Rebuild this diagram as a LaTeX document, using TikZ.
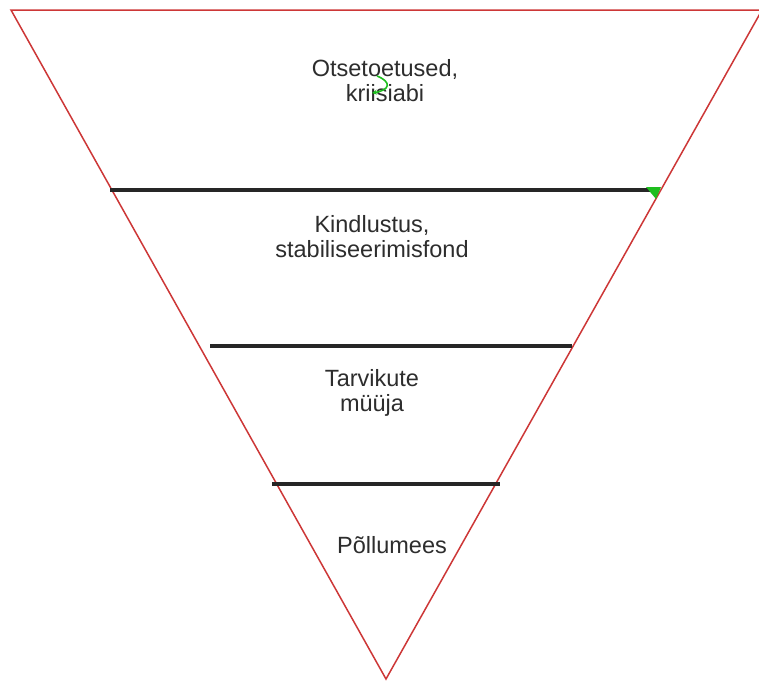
\documentclass[tikz,border=0pt]{standalone}
\usepackage{fontspec}
\setmainfont{Liberation Sans}
\usetikzlibrary{arrows.meta}
\definecolor{edgered}{RGB}{205,55,55}
\definecolor{txtgray}{RGB}{45,45,45}
\definecolor{selgreen}{RGB}{30,190,30}
\tikzset{
  tri/.style={draw=edgered, line width=1.5pt, line join=miter},
  level/.style={draw=black!85, line width=3.2pt},
  lbl/.style={align=center, text=txtgray, font=\fontsize{23.5}{25}\selectfont, inner sep=0pt},
  greenmark/.style={draw=selgreen, line width=1.6pt}
}
\begin{document}
\begin{tikzpicture}[x=1pt,y=-1pt]
\useasboundingbox (0,0) rectangle (759,681);
\fill[white] (0,0) rectangle (759,681);
% triangle corners
\coordinate (tl) at (11,10);
\coordinate (tr) at (762,10);
\coordinate (apex) at (386,679);
\draw[tri] (tl) -- (tr) -- (apex) -- cycle;
% level lines
\coordinate (l1a) at (110,190);
\coordinate (l1b) at (656,190);
\coordinate (l2a) at (210,346);
\coordinate (l2b) at (572,346);
\coordinate (l3a) at (272,484);
\coordinate (l3b) at (500,484);
\draw[level] (l1a) -- (l1b);
\draw[level] (l2a) -- (l2b);
\draw[level] (l3a) -- (l3b);
% labels
\node[lbl] (t1) at (385,81) {Otsetoetused,\\kriisiabi};
\node[lbl] (t2) at (372,237) {Kindlustus,\\stabiliseerimisfond};
\node[lbl] (t3) at (372,393) {Tarvikute\\müüja};
\node[lbl] (t4) at (392,545) {Põllumees};
% green selection marks
\fill[selgreen] (646,187) -- (661,187) -- (656,199) -- cycle;
\coordinate (g1) at (377,76);
\coordinate (g2) at (372,93);
\draw[greenmark, -{Stealth[length=5pt,width=5pt]}] (g1) .. controls (392,82) and (390,90) .. (g2);
\end{tikzpicture}
\end{document}
